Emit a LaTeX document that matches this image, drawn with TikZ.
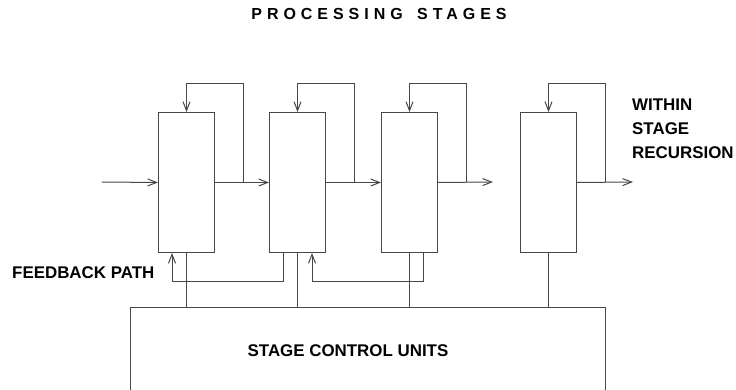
\documentclass[tikz,border=0pt]{standalone}
\usepackage{fontspec}
\setmainfont{Liberation Sans}
\usetikzlibrary{arrows.meta,calc}
\begin{document}
\begin{tikzpicture}[x=1pt,y=-1pt,
  ln/.style={draw=black!72, line width=1pt},
  arr/.style={ln,-{Straight Barb[length=9pt,width=7pt,line width=1pt]}},
  stagebox/.style={ln, rectangle, anchor=north west, inner sep=0pt, minimum width=56pt, minimum height=140pt},
  lbl/.style={font=\fontsize{16.9}{20}\selectfont\bfseries, text=black, inner sep=0pt}]
\useasboundingbox (0,0) rectangle (736,390);
\clip (0,0) rectangle (736,390);
% title
\node[lbl, font=\fontsize{16}{20}\selectfont\bfseries\addfontfeature{LetterSpace=31}] (title) at (379,14) {PROCESSING\hspace{5pt} STAGES};
% stage boxes
\node[stagebox] (b1) at (158,112) {};
\node[stagebox] (b2) at (269,112) {};
\node[stagebox] (b3) at (381,112) {};
\node[stagebox] (b4) at (520,112) {};
% control unit box (runs past the bottom edge)
\node[ln, rectangle, anchor=north west, inner sep=0pt, minimum width=475pt, minimum height=110pt] (ctl) at (130,307) {};
\node[lbl] (ctltxt) at (348,351) {STAGE CONTROL UNITS};
% labels
\node[lbl, anchor=west] (fb) at (12,273) {FEEDBACK PATH};
\node[lbl, anchor=west] (w1) at (632,105) {WITHIN};
\node[lbl, anchor=west] (w2) at (632,129) {STAGE};
\node[lbl, anchor=west] (w3) at (632,153) {RECURSION};
% main data path
\coordinate (in) at (102,182);
\coordinate (o3) at (493,182);
\coordinate (o4) at (633,182);
\draw[arr] (in) -- (b1.west);
\draw[arr] (b1.east) -- (b2.west);
\draw[arr] (b2.east) -- (b3.west);
\draw[arr] (b3.east) -- (o3);
\draw[arr] (b4.east) -- (o4);
% within-stage recursion loops
\foreach \b in {b1,b2,b3,b4}{
  \coordinate (\b r) at ($(\b.east)+(28,0)$);
  \coordinate (\b t) at ($(\b.north)+(0,-28)$);
  \draw[arr] (\b r) |- (\b t) -- (\b.north);
}
% control connections
\foreach \b in {b1,b2,b3,b4}{
  \draw[ln] (\b.south) -- (\b.south |- ctl.north);
}
% feedback paths
\coordinate (f2) at ($(b2.south west)+(14,0)$);
\coordinate (f1) at ($(b1.south west)+(14,0)$);
\coordinate (f3) at ($(b3.south west)+(42,0)$);
\coordinate (g2) at ($(b2.south west)+(43,0)$);
\draw[arr] (f2) -- ++(0,28) -| (f1);
\draw[arr] (f3) -- ++(0,28) -| (g2);
\end{tikzpicture}
\end{document}
